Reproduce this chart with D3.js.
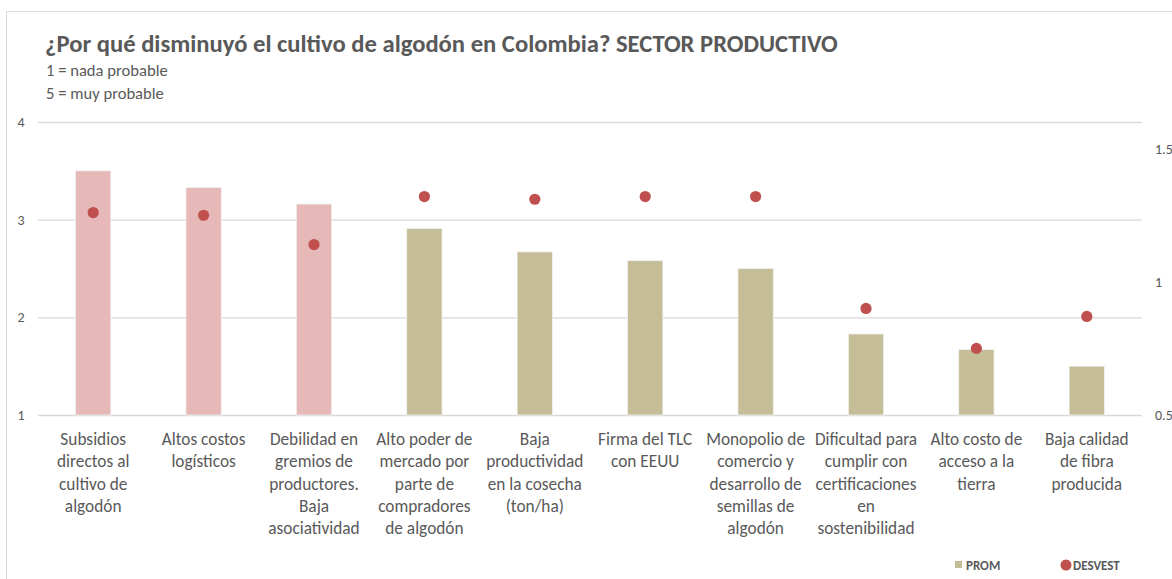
<!DOCTYPE html>
<html>
<head>
<meta charset="utf-8">
<script src="https://cdn.jsdelivr.net/npm/d3@7"></script>
<style>
  body { margin: 0; background: #fff; }
  svg text { font-family: Carlito, Calibri, Lato, sans-serif; fill: #595959; }
</style>
</head>
<body>
<svg id="chart" width="1172" height="579"></svg>
<script>
// categories, each split in the lines shown under the axis
const categories = [
  ["Subsidios", "directos al", "cultivo de", "algodón"],
  ["Altos costos", "logísticos"],
  ["Debilidad en", "gremios de", "productores.", "Baja", "asociatividad"],
  ["Alto poder de", "mercado por", "parte de", "compradores", "de algodón"],
  ["Baja", "productividad", "en la cosecha", "(ton/ha)"],
  ["Firma del TLC", "con EEUU"],
  ["Monopolio de", "comercio y", "desarrollo de", "semillas de", "algodón"],
  ["Dificultad para", "cumplir con", "certificaciones", "en", "sostenibilidad"],
  ["Alto costo de", "acceso a la", "tierra"],
  ["Baja calidad", "de fibra", "producida"]
];
const prom = [3.5, 3.33, 3.16, 2.91, 2.67, 2.58, 2.5, 1.83, 1.67, 1.5];
const desvest = [1.26, 1.25, 1.14, 1.32, 1.31, 1.32, 1.32, 0.9, 0.75, 0.87];
const highlighted = [true, true, true, false, false, false, false, false, false, false];
const leftTicks = [1, 2, 3, 4];
const rightTicks = [0.5, 1, 1.5];

function buildChart(svgid) {
  const svg = d3.select(svgid);
  const margin = { top: 122, left: 38, right: 1142, bottom: 415 };

  // chart frame
  svg.append("rect")
    .attr("x", 6.5).attr("y", 11.5)
    .attr("width", 1300).attr("height", 700)
    .attr("fill", "none").attr("stroke", "#d9d9d9");

  const x = d3.scaleBand()
    .domain(d3.range(categories.length))
    .range([margin.left, margin.right])
    .paddingInner(0.68).paddingOuter(0.34);

  const y = d3.scaleLinear().domain([1, 4]).range([margin.bottom, margin.top]);
  const y2 = d3.scaleLinear().domain([0.5, 1.6]).range([margin.bottom, margin.top]);

  // gridlines on left axis
  svg.append("g")
    .attr("transform", `translate(${margin.left},0)`)
    .call(d3.axisLeft(y).tickValues(leftTicks).tickSize(-(margin.right - margin.left)).tickFormat(d3.format("d")))
    .call(g => g.select(".domain").remove())
    .call(g => g.selectAll(".tick line").attr("stroke", "#d9d9d9").attr("stroke-width", 1.3))
    .call(g => g.selectAll(".tick text").attr("x", -17).style("font-size", "14px").style("text-anchor", "middle"));

  // right axis labels only
  svg.append("g")
    .attr("transform", `translate(${margin.right},0)`)
    .call(d3.axisRight(y2).tickValues(rightTicks).tickSize(0).tickFormat(d => d))
    .call(g => g.select(".domain").remove())
    .call(g => g.selectAll(".tick text").attr("x", 13).style("font-size", "14px"));

  // bars
  svg.selectAll(".bar")
    .data(prom)
    .enter().append("rect")
    .attr("class", "bar")
    .attr("x", (d, i) => x(i))
    .attr("y", d => y(d))
    .attr("width", x.bandwidth())
    .attr("height", d => y(1) - y(d))
    .attr("fill", (d, i) => highlighted[i] ? "#e6b8b7" : "#c4bd97")
    .attr("stroke", "#f2f2f2").attr("stroke-width", 0.8);

  // dots
  svg.selectAll(".dot")
    .data(desvest)
    .enter().append("circle")
    .attr("class", "dot")
    .attr("cx", (d, i) => x(i) + x.bandwidth() / 2)
    .attr("cy", d => y2(d))
    .attr("r", 5.6)
    .attr("fill", "#c0504d");

  // category labels
  const labels = svg.selectAll(".cat")
    .data(categories)
    .enter().append("text")
    .attr("class", "cat")
    .attr("text-anchor", "middle")
    .style("font-size", "17.3px");
  labels.selectAll("tspan")
    .data((d, i) => d.map(line => ({ line, i })))
    .enter().append("tspan")
    .attr("x", d => x(d.i) + x.bandwidth() / 2)
    .attr("y", (d, j) => 445 + j * 22.3)
    .text(d => d.line);

  // title + subtitle
  const title = svg.append("text")
    .attr("x", 45).attr("y", 52)
    .style("font-size", "21px").style("font-weight", "bold")
    .text("¿Por qué disminuyó el cultivo de algodón en Colombia? SECTOR PRODUCTIVO");
  const tw = title.node().getComputedTextLength();
  title.style("font-size", (21 * 793 / tw).toFixed(2) + "px");

  svg.append("text").attr("x", 46).attr("y", 76).style("font-size", "16.6px").text("1 = nada probable");
  svg.append("text").attr("x", 46).attr("y", 99).style("font-size", "16.6px").text("5 = muy probable");

  // legend
  const legend = svg.append("g");
  legend.append("rect").attr("x", 955).attr("y", 561).attr("width", 7).attr("height", 7).attr("fill", "#c4bd97");
  legend.append("text").attr("x", 966).attr("y", 570).style("font-size", "13px").style("font-weight", "bold").text("PROM");
  legend.append("circle").attr("cx", 1066).attr("cy", 565).attr("r", 5.5).attr("fill", "#c0504d");
  legend.append("text").attr("x", 1073).attr("y", 570).style("font-size", "13px").style("font-weight", "bold").text("DESVEST");
}

buildChart("#chart");
</script>
</body>
</html>
